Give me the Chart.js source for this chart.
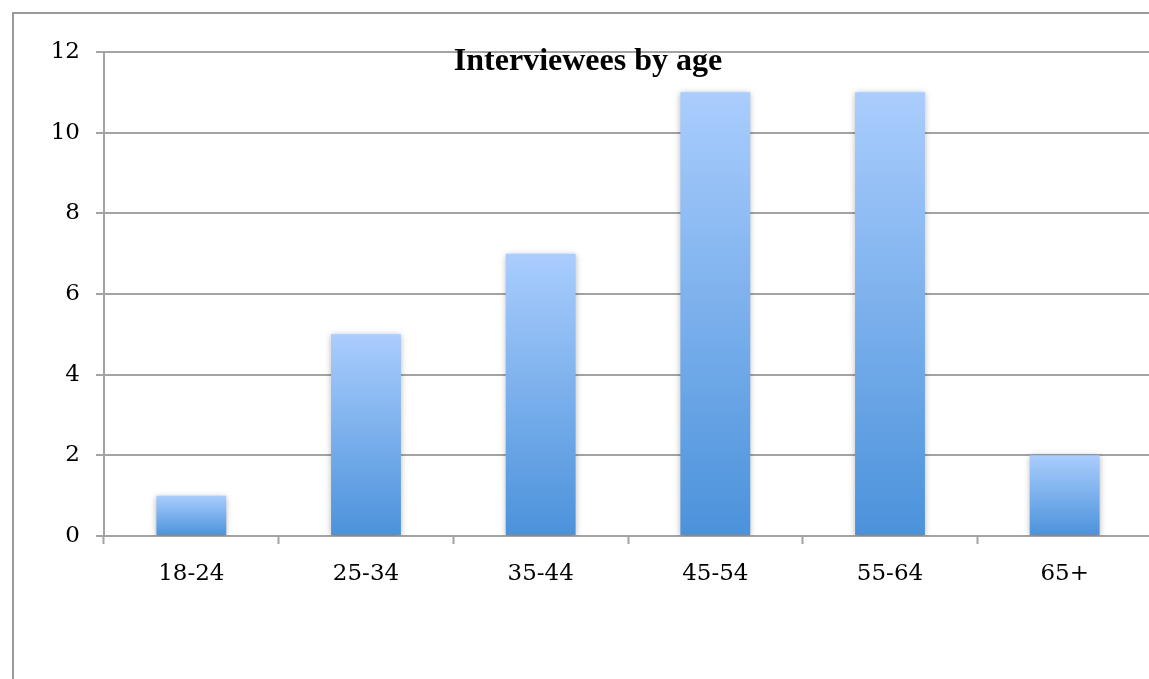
<!DOCTYPE html>
<html>
<head>
<meta charset="utf-8">
<script src="https://cdn.jsdelivr.net/npm/chart.js@4.4.1/dist/chart.umd.min.js"></script>
<style>
  html, body { margin: 0; padding: 0; overflow: hidden; background: #fff; }
  #frame {
    position: absolute; left: 12px; top: 12px;
    width: 1300px; height: 800px;
    border: 2px solid #9a9a9a;
  }
  #chart { position: absolute; left: 0; top: 0; }
</style>
</head>
<body>
<div id="frame"></div>
<canvas id="chart" width="1152" height="679"></canvas>
<script>
// data
const ageGroups = ['18-24', '25-34', '35-44', '45-54', '55-64', '65+'];
const interviewees = [1, 5, 7, 11, 11, 2];
const yTicks = [0, 2, 4, 6, 8, 10, 12];
const chartTitle = 'Interviewees by age';

const gridColor = '#a3a3a3';

// gradient per bar, light at top, darker at the base
function barFill(ctx) {
    const chart = ctx.chart;
    const y = chart.scales && chart.scales.y;
    if (!chart.chartArea || !y || ctx.parsed === undefined) return '#7fb0ec';
    const top = y.getPixelForValue(ctx.parsed.y);
    const base = y.getPixelForValue(0);
    if (!isFinite(top) || !isFinite(base) || top === base) return '#7fb0ec';
    const g = chart.ctx.createLinearGradient(0, top, 0, base);
    g.addColorStop(0, '#aacdfd');
    g.addColorStop(1, '#4b92db');
    return g;
}

// soft shadow behind the bars
const barShadow = {
    id: 'barShadow',
    beforeDatasetsDraw(chart) {
        const c = chart.ctx;
        c.save();
        c.shadowColor = 'rgba(0,0,0,0.28)';
        c.shadowBlur = 6;
        c.shadowOffsetX = 0;
        c.shadowOffsetY = 1;
    },
    afterDatasetsDraw(chart) {
        chart.ctx.restore();
    }
};

// title sits inside the plot, like the original
const innerTitle = {
    id: 'innerTitle',
    afterDraw(chart) {
        const c = chart.ctx;
        c.save();
        c.font = 'bold 32px "Liberation Serif", "Times New Roman", serif';
        c.fillStyle = '#000';
        c.textAlign = 'center';
        c.textBaseline = 'middle';
        c.fillText(chartTitle, 588, 62);
        c.restore();
    }
};

const ctx = document.getElementById('chart').getContext('2d');
new Chart(ctx, {
    type: 'bar',
    data: {
        labels: ageGroups,
        datasets: [{
            label: 'Interviewees',
            data: interviewees,
            backgroundColor: barFill,
            borderWidth: 0,
            barPercentage: 0.4,
            categoryPercentage: 1
        }]
    },
    options: {
        responsive: false,
        animation: false,
        layout: { padding: { left: 0, top: 52, right: 0, bottom: 0 } },
        plugins: {
            legend: { display: false },
            title: { display: false },
            tooltip: { enabled: false }
        },
        scales: {
            x: {
                offset: true,
                grid: {
                    offset: true,
                    drawOnChartArea: false,
                    drawTicks: true,
                    tickLength: 8,
                    tickWidth: 2,
                    tickColor: gridColor
                },
                border: { color: gridColor, width: 2 },
                ticks: {
                    color: '#000',
                    padding: 16,
                    font: { family: '"DejaVu Serif", serif', size: 23 }
                },
                afterFit(scale) { scale.height = 143; }
            },
            y: {
                min: 0,
                max: 12,
                afterBuildTicks(scale) { scale.ticks = yTicks.map(v => ({ value: v })); },
                grid: {
                    color: gridColor,
                    lineWidth: 2,
                    tickLength: 8,
                    tickColor: gridColor
                },
                border: { color: gridColor, width: 2 },
                ticks: {
                    color: '#000',
                    padding: 16,
                    font: { family: '"DejaVu Serif", serif', size: 23 }
                },
                afterFit(scale) { scale.width = 104; }
            }
        }
    },
    plugins: [barShadow, innerTitle]
});
</script>
</body>
</html>
